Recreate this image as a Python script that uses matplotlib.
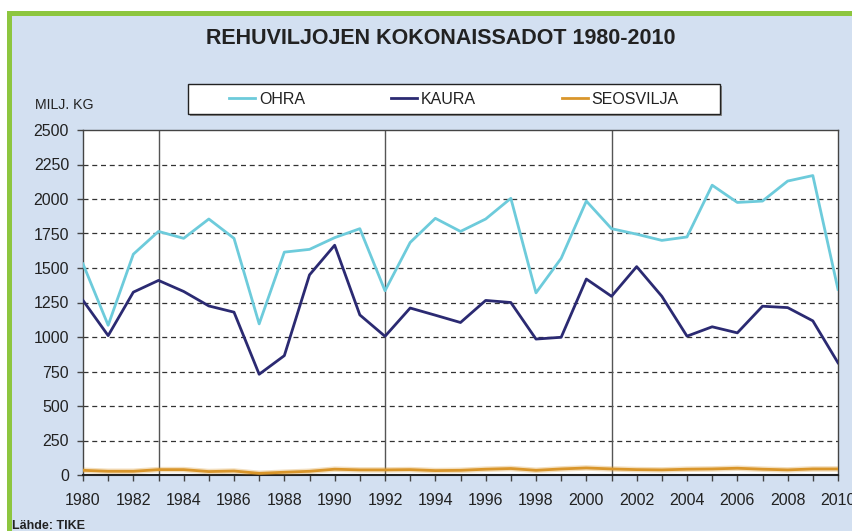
import numpy as np
import matplotlib.pyplot as plt
from matplotlib.patches import Rectangle

# data (milj. kg)
years = list(range(1980, 2011))
ohra = [1530, 1085, 1600, 1765, 1715, 1855, 1715, 1095, 1615, 1635, 1720,
        1785, 1335, 1685, 1860, 1765, 1855, 2005, 1320, 1570, 1985,
        1785, 1745, 1700, 1725, 2100, 1975, 1985, 2130, 2170, 1345]
kaura = [1265, 1010, 1325, 1410, 1330, 1225, 1180, 730, 865, 1450, 1665,
         1160, 1005, 1210, 1158, 1105, 1265, 1250, 985, 998, 1420,
         1295, 1510, 1295, 1006, 1074, 1030, 1223, 1213, 1117, 813]
seosvilja = [34, 27, 27, 39, 39, 25, 29, 12, 20, 27, 42,
             37, 37, 39, 32, 34, 42, 47, 34, 44, 51,
             44, 39, 37, 42, 44, 49, 42, 37, 44, 44]
series_names = ['OHRA', 'KAURA', 'SEOSVILJA']
series_colors = ['#6dcbdb', '#2b2a72', '#d9962b']
title = 'REHUVILJOJEN KOKONAISSADOT 1980-2010'
unit_label = 'MILJ. KG'
source = 'Lähde: TIKE'

plt.rcParams['font.family'] = ['Liberation Sans', 'DejaVu Sans']

W, H = 853, 531
fig = plt.figure(figsize=(W / 100, H / 100), dpi=100)
fig.patch.set_facecolor('white')

# background panel and green frame, given in pixels from the top-left corner
def px_rect(x0, y0, x1, y1, face, edge='none', lw=0, z=-5):
    r = Rectangle((x0 / W, 1 - y1 / H), (x1 - x0) / W, (y1 - y0) / H,
                  transform=fig.transFigure, facecolor=face, edgecolor=edge,
                  lw=lw, zorder=z)
    fig.patches.append(r)

px_rect(7, 11, W, H, '#8dc63f', z=-10)
px_rect(12, 16, W, H, '#d3e0f1', z=-9)

ax = fig.add_axes([83 / W, 1 - 475 / H, (838 - 83) / W, 345 / H])
ax.set_facecolor('white')

ax.plot(years, ohra, color=series_colors[0], lw=2.0, label=series_names[0], zorder=3)
ax.plot(years, kaura, color=series_colors[1], lw=2.0, label=series_names[1], zorder=3)
ax.plot(years, seosvilja, color=series_colors[2], lw=4.0, alpha=0.3, zorder=3)
ax.plot(years, seosvilja, color=series_colors[2], lw=2.0, label=series_names[2], zorder=3)

ax.set_xlim(1980, 2010)
ax.set_ylim(0, 2500)
ax.set_yticks(np.arange(0, 2501, 250))
ax.set_xticks(years)
ax.set_xticklabels([str(y) if y % 2 == 0 else '' for y in years])

for y in range(250, 2500, 250):
    ax.axhline(y, color='#333333', lw=0.9, ls=(0, (4, 3)), zorder=1)
for x in [1983, 1992, 2001]:
    ax.axvline(x, color='#555555', lw=1.0, zorder=1)

for s in ax.spines.values():
    s.set_color('#444444')
    s.set_linewidth(1.0)
ax.spines['bottom'].set_color('#222222')
ax.spines['bottom'].set_linewidth(1.5)

ax.tick_params(axis='both', direction='out', length=4, width=1, color='#444444',
               labelsize=11.5, labelcolor='#222222')
ax.tick_params(axis='x', pad=9)
ax.tick_params(axis='y', pad=6)

fig.text(441 / W, 1 - 38 / H, title, ha='center', va='center',
         fontsize=15.5, fontweight='bold', color='#222222')
fig.text(35 / W, 1 - 105 / H, unit_label, ha='left', va='center',
         fontsize=10.2, color='#222222')
fig.text(12 / W, 1 - 526 / H, source, ha='left', va='center',
         fontsize=9, fontweight='bold', color='#222222')

# legend box drawn separately so the entries keep their own spacing
px_rect(190, 86, 722, 116, '#8a8a8a', z=-4)
px_rect(188, 84, 720, 114, 'white', edge='#222222', lw=1.0, z=-3)
leg = fig.legend(loc='center', bbox_to_anchor=(454 / W, 1 - 99 / H),
                 ncol=3, frameon=False, fontsize=11.5, handlelength=1.6,
                 handletextpad=0.25, columnspacing=5.4, borderaxespad=0)
for t in leg.get_texts():
    t.set_color('#222222')

fig.savefig('out.png', dpi=100, facecolor=fig.get_facecolor())
